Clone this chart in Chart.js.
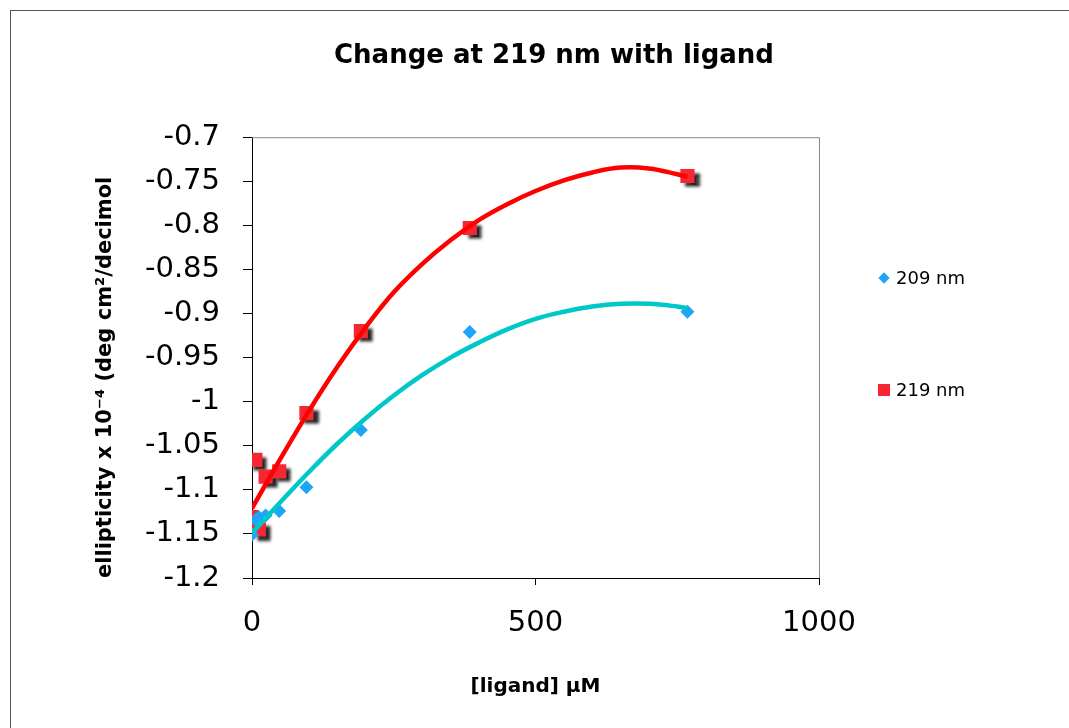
<!DOCTYPE html>
<html>
<head>
<meta charset="utf-8">
<script src="https://cdn.jsdelivr.net/npm/chart.js@4/dist/chart.umd.min.js"></script>
<style>
  html, body { margin: 0; padding: 0; background: #fff; overflow: hidden; }
  #wrap { position: relative; width: 1069px; height: 728px; overflow: hidden; }
  #frame { position: absolute; left: 10px; top: 10px; width: 1200px; height: 900px;
           border-left: 1px solid #555; border-top: 1px solid #555; }
  #chart-box { position: absolute; left: 0; top: 0; width: 1108px; height: 728px; }
  #legend { position: absolute; left: 0; top: 0; font-family: "DejaVu Sans", Verdana, sans-serif;
            font-size: 18px; color: #000; }
  .item { position: absolute; height: 24px; line-height: 24px; white-space: nowrap; }
  .mark { position: absolute; top: 50%; }
  .item span.txt { position: absolute; left: 12px; top: 0; }
</style>
</head>
<body>
<div id="wrap">
  <div id="frame"></div>
  <div id="chart-box"><canvas id="myChart"></canvas></div>
  <div id="legend"></div>
</div>
<script>
// datos
const conc = [0, 6, 12, 24, 48, 96, 192, 384, 768];
const ell209 = [-1.151, -1.134, -1.131, -1.129, -1.124, -1.097, -1.032, -0.921, -0.898];
const ell219 = [-1.131, -1.066, -1.145, -1.085, -1.079, -1.013, -0.920, -0.803, -0.744];

// lineas de tendencia
const trendConc = [0, 50, 100, 150, 200, 250, 300, 350, 400, 450, 500, 550, 600, 650, 700, 750, 768];
const trend209 = [-1.149, -1.114, -1.080, -1.048, -1.019, -0.993, -0.970, -0.950, -0.933, -0.918, -0.906, -0.898, -0.892, -0.889, -0.889, -0.892, -0.894];
const trend219 = [-1.121, -1.065, -1.011, -0.961, -0.916, -0.876, -0.844, -0.817, -0.794, -0.776, -0.761, -0.749, -0.740, -0.7345, -0.7355, -0.742, -0.745];

const xTicks = [0, 500, 1000];
const yTicks = [-1.2, -1.15, -1.1, -1.05, -1, -0.95, -0.9, -0.85, -0.8, -0.75, -0.7];

const FONT = "DejaVu Sans";
const pts = (xs, ys) => xs.map((x, i) => ({ x: x, y: ys[i] }));

// sombra para los cuadrados rojos
const shadowPlugin = {
  id: "shadow",
  beforeDatasetDraw(chart, args) {
    if (!chart.data.datasets[args.index].shadow) return;
    const ctx = chart.ctx;
    ctx.save();
    ctx.shadowColor = "rgba(0,0,0,0.85)";
    ctx.shadowBlur = 3;
    ctx.shadowOffsetX = 5;
    ctx.shadowOffsetY = 4;
  },
  afterDatasetDraw(chart, args) {
    if (chart.data.datasets[args.index].shadow) chart.ctx.restore();
  }
};

// borde gris arriba y a la derecha del area
const plotFrame = {
  id: "plotFrame",
  beforeDatasetsDraw(chart) {
    const { ctx, chartArea: a } = chart;
    ctx.save();
    ctx.strokeStyle = "#888";
    ctx.lineWidth = 1;
    ctx.beginPath();
    ctx.moveTo(a.left, a.top + 0.5);
    ctx.lineTo(a.right + 0.5, a.top + 0.5);
    ctx.lineTo(a.right + 0.5, a.bottom);
    ctx.stroke();
    ctx.restore();
  }
};

let ctx = document.getElementById("myChart");

const datasets = [
  {
    label: "209 nm",
    data: pts(conc, ell209),
    pointStyle: "rectRot",
    pointRadius: 7,
    pointBorderWidth: 0,
    backgroundColor: "#1fa4f6",
    borderColor: "#1fa4f6",
    showLine: false,
    order: 2,
  },
  {
    label: "219 nm",
    data: pts(conc, ell219),
    pointStyle: "rect",
    pointRadius: 10,
    pointBorderWidth: 0,
    backgroundColor: "#f62632",
    borderColor: "#f62632",
    showLine: false,
    shadow: true,
    order: 3,
  },
  {
    label: "trend 209",
    data: pts(trendConc, trend209),
    showLine: true,
    pointRadius: 0,
    borderColor: "#00c8c8",
    borderWidth: 4.5,
    tension: 0.4,
    fill: false,
    order: 1,
  },
  {
    label: "trend 219",
    data: pts(trendConc, trend219),
    showLine: true,
    pointRadius: 0,
    borderColor: "#ff0000",
    borderWidth: 4.5,
    tension: 0.4,
    fill: false,
    order: 1,
  },
];

let myChart = new Chart(ctx, {
  type: "scatter",
  data: { datasets: datasets },
  plugins: [shadowPlugin, plotFrame],
  options: {
    responsive: true,
    maintainAspectRatio: false,
    animation: false,
    layout: { padding: 0 },
    plugins: {
      legend: { display: false },
      tooltip: { enabled: false },
      title: {
        display: true,
        text: "Change at 219 nm with ligand",
        color: "#000",
        font: { family: FONT, size: 26, weight: "bold" },
        padding: { top: 41, bottom: 65 },
      },
    },
    scales: {
      x: {
        type: "linear",
        min: 0,
        max: 1000,
        afterBuildTicks: (s) => { s.ticks = xTicks.map((v) => ({ value: v })); },
        afterFit: (s) => { s.height = 150; },
        grid: { drawOnChartArea: false, drawTicks: true, tickLength: 7, tickColor: "#000" },
        border: { color: "#000", width: 1 },
        ticks: { color: "#000", font: { family: FONT, size: 29 }, padding: 21, maxRotation: 0, callback: (v) => String(v) },
        title: {
          display: true,
          text: "[ligand] μM",
          color: "#000",
          font: { family: FONT, size: 20, weight: "bold" },
          padding: { top: 0, bottom: 29 },
        },
      },
      y: {
        type: "linear",
        min: -1.2,
        max: -0.7,
        afterBuildTicks: (s) => { s.ticks = yTicks.map((v) => ({ value: v })); },
        afterFit: (s) => { s.width = 252; },
        grid: { drawOnChartArea: false, drawTicks: true, tickLength: 9, tickColor: "#000" },
        border: { color: "#000", width: 1 },
        ticks: { color: "#000", font: { family: FONT, size: 29 }, padding: 23, callback: (v) => String(v) },
        title: {
          display: true,
          text: "ellipticity x 10⁻⁴ (deg cm²/decimol",
          align: "start",
          color: "#000",
          font: { family: FONT, size: 21, weight: "bold" },
          padding: { top: 93, bottom: 0 },
        },
      },
      // espacio vacio a la derecha (donde va la leyenda)
      yRight: {
        position: "right",
        display: true,
        afterFit: (s) => { s.width = 289; },
        grid: { display: false },
        border: { display: false },
        ticks: { display: false },
      },
    },
  },
});

// leyenda a la derecha
let legend = document.getElementById("legend");
const legendY = [278, 390];
datasets.slice(0, 2).forEach((d, i) => {
  let mark = d.pointStyle === "rectRot"
    ? `<span class="mark" style="left:-4px;width:8px;height:8px;margin-top:-4px;background:${d.backgroundColor};transform:rotate(45deg)"></span>`
    : `<span class="mark" style="left:-6px;width:12px;height:12px;margin-top:-6px;background:${d.backgroundColor}"></span>`;
  legend.innerHTML += `<div class="item" style="left:884px;top:${legendY[i] - 12}px">${mark}<span class="txt">${d.label}</span></div>`;
});
</script>
</body>
</html>
